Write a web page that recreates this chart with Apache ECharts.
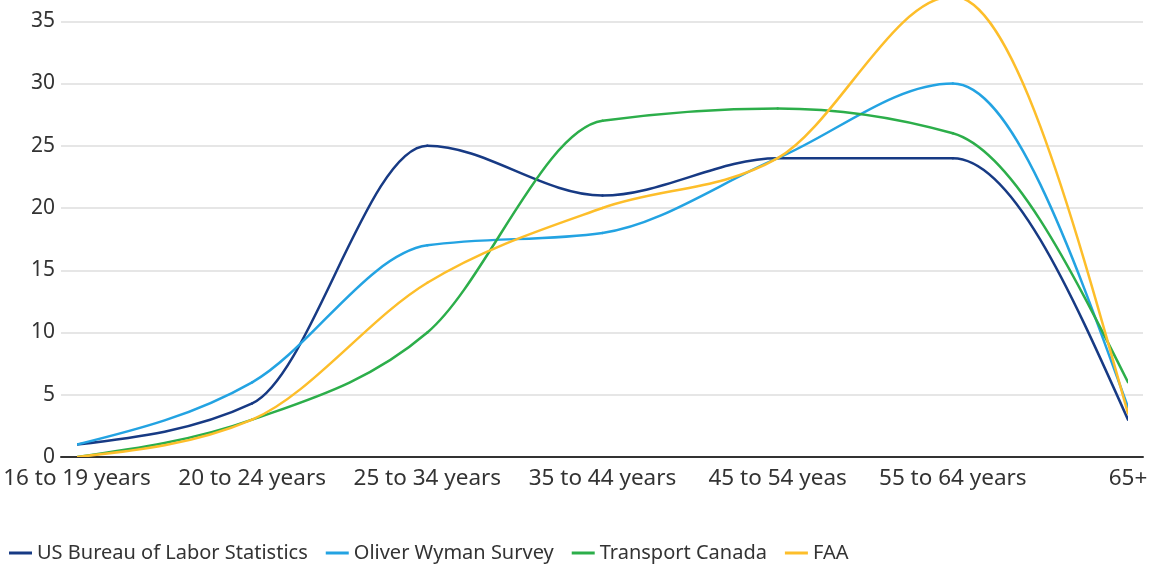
<!DOCTYPE html>
<html><head><meta charset="utf-8">
<script src="https://cdn.jsdelivr.net/npm/echarts@6/dist/echarts.min.js"></script>
<style>html,body{margin:0;padding:0;background:#fff;overflow:hidden;width:1151px;height:564px}#c{width:1151px;height:605px;margin-top:-41px}</style>
</head><body><div id="c"></div>
<script>
const categories = ['16 to 19 years','20 to 24 years','25 to 34 years','35 to 44 years','45 to 54 yeas','55 to 64 years','65+'];
const blsValues = [1, 4.3, 25, 21, 24, 24, 3];
const wymanValues = [1, 6, 17, 18, 24, 30, 4];
const canadaValues = [0, 3, 10, 27, 28, 26, 6];
const faaValues = [0, 3, 14, 20, 24, 37, 3.5];
const yTicks = [0, 5, 10, 15, 20, 25, 30, 35, 40];

const font = '"Noto Sans", "Open Sans", sans-serif';
const chart = echarts.init(document.getElementById('c'), null, {renderer: 'canvas'});

function sign(v) { return v < 0 ? -1 : 1; }
// monotone cubic (Fritsch-Carlson style) path through points given in pixel space
function monotonePath(pts, color) {
  const n = pts.length;
  const t = new Array(n).fill(0);
  for (let i = 1; i < n - 1; i++) {
    const h0 = pts[i][0] - pts[i-1][0], h1 = pts[i+1][0] - pts[i][0];
    const s0 = (pts[i][1] - pts[i-1][1]) / h0, s1 = (pts[i+1][1] - pts[i][1]) / h1;
    const p = (s0 * h1 + s1 * h0) / (h0 + h1);
    t[i] = (sign(s0) + sign(s1)) * Math.min(Math.abs(s0), Math.abs(s1), 0.5 * Math.abs(p)) || 0;
  }
  const e0 = (pts[1][1] - pts[0][1]) / (pts[1][0] - pts[0][0]);
  t[0] = (3 * e0 - t[1]) / 2;
  const e1 = (pts[n-1][1] - pts[n-2][1]) / (pts[n-1][0] - pts[n-2][0]);
  t[n-1] = (3 * e1 - t[n-2]) / 2;
  const children = [];
  for (let i = 0; i < n - 1; i++) {
    const dx = (pts[i+1][0] - pts[i][0]) / 3;
    children.push({
      type: 'bezierCurve',
      shape: {x1: pts[i][0], y1: pts[i][1], x2: pts[i+1][0], y2: pts[i+1][1],
              cpx1: pts[i][0] + dx, cpy1: pts[i][1] + dx * t[i],
              cpx2: pts[i+1][0] - dx, cpy2: pts[i+1][1] - dx * t[i+1]},
      style: {stroke: color, fill: null, lineWidth: 2.5, lineCap: 'round'}
    });
  }
  return {type: 'group', children};
}
function s(name, values, color) {
  return {
    name, type: 'custom', xAxisIndex: 0, yAxisIndex: 0, clip: true,
    data: values.map((v, i) => [i, v]),
    encode: {x: 0, y: 1},
    itemStyle: {color},
    renderItem: function (params, api) {
      if (params.dataIndex !== 0) return null;
      const pts = values.map((v, i) => api.coord([i, v]));
      return monotonePath(pts, color);
    }
  };
}
chart.setOption({
  animation: false,
  textStyle: {fontFamily: font},
  grid: [
    {left: 77, right: 23, top: 0, bottom: 107, outerBoundsMode: 'none', containLabel: false},
    {left: 61, right: 8, top: 0, bottom: 107, outerBoundsMode: 'none', containLabel: false}
  ],
  xAxis: [
    {type: 'category', gridIndex: 0, data: categories, boundaryGap: false,
     axisLine: {show: false}, axisTick: {show: false}, splitLine: {show: false},
     axisLabel: {fontSize: 22.5, color: '#333', margin: 10, interval: 0, fontFamily: font}},
    {type: 'category', gridIndex: 1, data: categories, boundaryGap: false,
     axisLine: {show: true, lineStyle: {color: '#333', width: 2}}, axisTick: {show: false},
     axisLabel: {show: false}, splitLine: {show: false}}
  ],
  yAxis: [
    {type: 'value', gridIndex: 0, min: yTicks[0], max: yTicks[yTicks.length-1], interval: 5,
     axisLabel: {show: false}, axisLine: {show: false}, axisTick: {show: false}, splitLine: {show: false}},
    {type: 'value', gridIndex: 1, min: yTicks[0], max: yTicks[yTicks.length-1], interval: 5,
     axisLine: {show: false}, axisTick: {show: false},
     axisLabel: {fontSize: 21, color: '#333', margin: 6, fontFamily: font},
     splitLine: {show: true, lineStyle: {color: '#e6e6e6', width: 2}}}
  ],
  legend: {
    left: 4, bottom: 1, padding: [5, 5, 0, 5], itemWidth: 23, itemHeight: 3, itemGap: 18, icon: 'rect',
    textStyle: {fontSize: 20, color: '#333', fontFamily: font},
    data: ['US Bureau of Labor Statistics','Oliver Wyman Survey','Transport Canada','FAA']
  },
  series: [
    s('US Bureau of Labor Statistics', blsValues, '#173a84'),
    s('Oliver Wyman Survey', wymanValues, '#23a3e2'),
    s('Transport Canada', canadaValues, '#2cae4a'),
    s('FAA', faaValues, '#fdbe2a')
  ]
});
</script></body></html>
